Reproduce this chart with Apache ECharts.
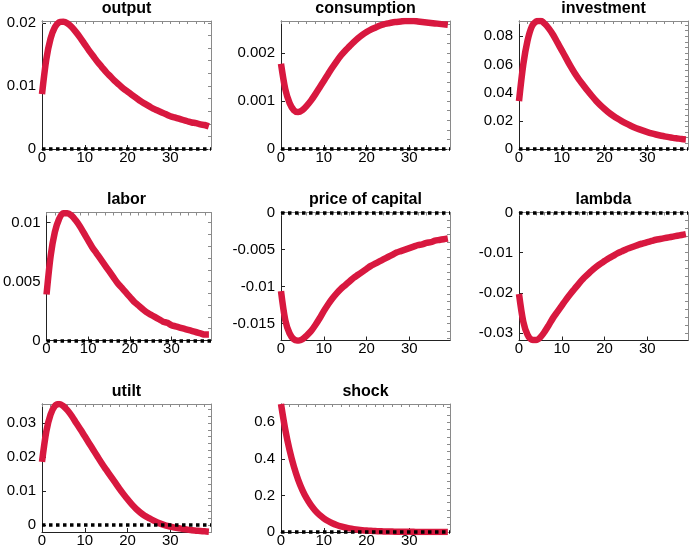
<!DOCTYPE html>
<html><head><meta charset="utf-8">
<script src="https://cdn.jsdelivr.net/npm/echarts@6/dist/echarts.min.js"></script>
<style>html,body{margin:0;padding:0;background:#fff}#c{width:690px;height:551px}</style>
</head><body><div id="c"></div><script>
const periods = [0,1,2,3,4,5,6,7,8,9,10,11,12,13,14,15,16,17,18,19,20,21,22,23,24,25,26,27,28,29,30,31,32,33,34,35,36,37,38,39];
const xTickLabels = [0,10,20,30];

const output = [0.0087,0.0142,0.0175,0.0193,0.0201,0.0202,0.0199,0.0193,0.0185,0.0176,0.0166,0.0156,0.0147,0.0138,0.0130,0.0122,0.0115,0.0108,0.0102,0.0096,0.0091,0.0086,0.0081,0.0076,0.0072,0.0068,0.0064,0.0061,0.0058,0.0055,0.0052,0.0050,0.0048,0.0046,0.0044,0.0042,0.0041,0.0039,0.0038,0.0036];
const consumption = [0.00178,0.00125,0.00096,0.00081,0.00077,0.00081,0.00090,0.00101,0.00114,0.00128,0.00142,0.00156,0.00170,0.00183,0.00195,0.00205,0.00214,0.00223,0.00231,0.00238,0.00244,0.00249,0.00253,0.00257,0.00260,0.00262,0.00264,0.00265,0.00266,0.00267,0.00267,0.00267,0.00266,0.00265,0.00264,0.00263,0.00262,0.00261,0.00260,0.00259];
const investment = [0.034,0.060,0.077,0.087,0.0905,0.091,0.089,0.0855,0.081,0.0755,0.070,0.0645,0.059,0.0540,0.0495,0.0455,0.0415,0.0378,0.0343,0.0312,0.0284,0.0258,0.0236,0.0216,0.0198,0.0182,0.0167,0.0153,0.0141,0.0130,0.0120,0.0111,0.0103,0.0096,0.0090,0.0084,0.0079,0.0075,0.0071,0.0068];
const labor = [0.0039,0.0072,0.0092,0.0103,0.0108,0.0108,0.0106,0.0102,0.0097,0.0091,0.0085,0.0079,0.0074,0.0069,0.0064,0.0059,0.0054,0.0049,0.0045,0.0041,0.0037,0.0033,0.0030,0.0027,0.0024,0.0022,0.0020,0.0018,0.0016,0.0015,0.0013,0.0012,0.0011,0.0010,0.0009,0.0008,0.0007,0.0006,0.0005,0.0005];
const priceOfCapital = [-0.0106,-0.0145,-0.0163,-0.0171,-0.0173,-0.0171,-0.0166,-0.0160,-0.0152,-0.0143,-0.0133,-0.0124,-0.0116,-0.0109,-0.0103,-0.0098,-0.0093,-0.0088,-0.0084,-0.0080,-0.0076,-0.0072,-0.0069,-0.0066,-0.0063,-0.0060,-0.0057,-0.0054,-0.0052,-0.0050,-0.0048,-0.0046,-0.0044,-0.0043,-0.0041,-0.0040,-0.0038,-0.0037,-0.0036,-0.0035];
const lambda = [-0.0203,-0.0272,-0.0305,-0.0317,-0.0318,-0.0311,-0.0297,-0.0280,-0.0262,-0.0247,-0.0232,-0.0217,-0.0203,-0.0190,-0.0177,-0.0165,-0.0155,-0.0145,-0.0136,-0.0128,-0.0121,-0.0114,-0.0108,-0.0102,-0.0097,-0.0092,-0.0088,-0.0084,-0.0080,-0.0077,-0.0074,-0.0071,-0.0068,-0.0066,-0.0064,-0.0062,-0.0060,-0.0058,-0.0056,-0.0054];
const utilt = [0.0186,0.0275,0.0325,0.0350,0.0356,0.0350,0.0337,0.0320,0.0300,0.0281,0.0261,0.0241,0.0221,0.0201,0.0181,0.0163,0.0145,0.0127,0.0109,0.0092,0.0076,0.0061,0.0048,0.0037,0.0028,0.0021,0.0014,0.0008,0.0003,-0.0001,-0.0004,-0.0007,-0.0009,-0.0011,-0.0013,-0.0015,-0.0016,-0.0017,-0.0018,-0.0019];
const shock = [0.7,0.56,0.448,0.3584,0.2867,0.2294,0.1835,0.1468,0.1174,0.0939,0.0751,0.0601,0.0481,0.0385,0.0308,0.0246,0.0197,0.0158,0.0126,0.0101,0.0081,0.0065,0.0052,0.0041,0.0033,0.0026,0.0021,0.0017,0.0014,0.0011,0.0009,0.0007,0.0006,0.0005,0.0004,0.0003,0.0002,0.0002,0.0002,0.0001];

const titles = ['output','consumption','investment','labor','price of capital','lambda','utilt','shock'];
const seriesValues = [output, consumption, investment, labor, priceOfCapital, lambda, utilt, shock];
const yTickLabels = [
  [0,0.01,0.02],
  [0,0.001,0.002],
  [0,0.02,0.04,0.06,0.08],
  [0,0.005,0.01],
  [-0.015,-0.01,-0.005,0],
  [-0.03,-0.02,-0.01,0],
  [0,0.01,0.02,0.03],
  [0,0.2,0.4,0.6]
];
const yLimits = [
  [0,0.0203],[0,0.00267],[0,0.0909],
  [0,0.01086],[-0.01726,0],[-0.0319,0],
  [-0.002,0.0356],[0,0.7]
];
const xLimits = [0, 39.5];

// layout
const colLeft = [42, 281, 519], colWidth = 169;
const rowTop = [21, 212.5, 404], rowHeight = 128;
const FONT = "'Liberation Sans', Arial, Helvetica, sans-serif";
const RED = '#d8183f';

function fmt(v){ return String(parseFloat(Number(v).toPrecision(8))); }
function minorValues(lo, hi, step){
  const out = [];
  const start = Math.ceil(lo/step - 1e-9);
  for (let k = start; k*step <= hi + step*1e-6; k++) out.push(parseFloat((k*step).toPrecision(10)));
  return out;
}

const grid = [], xAxis = [], yAxis = [], series = [], graphic = [];
titles.forEach((t, i) => {
  const r = Math.floor(i/3), c = i%3;
  const left = colLeft[c], top = rowTop[r];
  grid.push({left: left, top: top, width: colWidth, height: rowHeight, containLabel: false, show: false});
  const ticks = yTickLabels[i];
  const ystep = Math.abs(ticks[1]-ticks[0]) / 5;
  const [ymin, ymax] = yLimits[i];
  const xMinor = minorValues(xLimits[0], xLimits[1], 2);
  const yMinor = minorValues(ymin, ymax, ystep);
  xAxis.push({
    gridIndex: i, type: 'value', position: 'bottom', min: xLimits[0], max: xLimits[1],
    axisLine: {show: true, onZero: false, lineStyle: {color: '#222', width: 1}},
    axisTick: {show: true, inside: true, length: 4, customValues: xTickLabels, lineStyle: {color: '#222'}},
    axisLabel: {show: true, customValues: xTickLabels, margin: 1, color: '#000', fontSize: 15, fontFamily: FONT, formatter: fmt},
    splitLine: {show: false}
  });
  xAxis.push({
    gridIndex: i, type: 'value', position: 'top', min: xLimits[0], max: xLimits[1],
    axisLine: {show: true, onZero: false, lineStyle: {color: '#8a8a8a', width: 1}},
    axisTick: {show: true, inside: true, length: 3, customValues: xMinor, lineStyle: {color: '#8a8a8a'}},
    axisLabel: {show: false},
    splitLine: {show: false}
  });
  yAxis.push({
    gridIndex: i, type: 'value', position: 'left', min: ymin, max: ymax,
    axisLine: {show: true, onZero: false, lineStyle: {color: '#222', width: 1}},
    axisTick: {show: true, inside: true, length: 4, customValues: ticks, lineStyle: {color: '#222'}},
    axisLabel: {show: true, customValues: ticks, margin: 6, color: '#000', fontSize: 15, fontFamily: FONT, formatter: fmt},
    splitLine: {show: false}
  });
  yAxis.push({
    gridIndex: i, type: 'value', position: 'right', min: ymin, max: ymax,
    axisLine: {show: true, onZero: false, lineStyle: {color: '#8a8a8a', width: 1}},
    axisTick: {show: true, inside: true, length: 3, customValues: yMinor, lineStyle: {color: '#8a8a8a'}},
    axisLabel: {show: false},
    splitLine: {show: false}
  });
  series.push({
    type: 'line', name: t, xAxisIndex: 2*i, yAxisIndex: 2*i,
    data: periods.map((p, k) => [p, seriesValues[i][k]]),
    showSymbol: false, symbol: 'none', smooth: 0.3, smoothMonotone: 'none', clip: true, z: 2,
    lineStyle: {color: RED, width: 6.5, cap: 'butt', join: 'round'},
    animation: false, silent: true
  });
  series.push({
    type: 'line', name: t + ' steady state', xAxisIndex: 2*i, yAxisIndex: 2*i,
    data: [], showSymbol: false, clip: false, z: 5, animation: false, silent: true,
    markLine: {
      silent: true, symbol: 'none', animation: false,
      label: {show: false},
      lineStyle: {color: '#000', type: [3.5, 3.5], width: 3.5, cap: 'butt'},
      emphasis: {disabled: true},
      data: [{yAxis: 0}]
    }
  });
  graphic.push({
    type: 'text', x: left + colWidth/2, y: top - 12.8,
    style: {text: t, fill: '#000', font: "bold 16px " + FONT, textAlign: 'center', textVerticalAlign: 'middle'},
    silent: true
  });
});

const chart = echarts.init(document.getElementById('c'), null, {renderer: 'canvas'});
chart.setOption({
  backgroundColor: '#fff',
  animation: false,
  grid, xAxis, yAxis, series, graphic
});
</script></body></html>
